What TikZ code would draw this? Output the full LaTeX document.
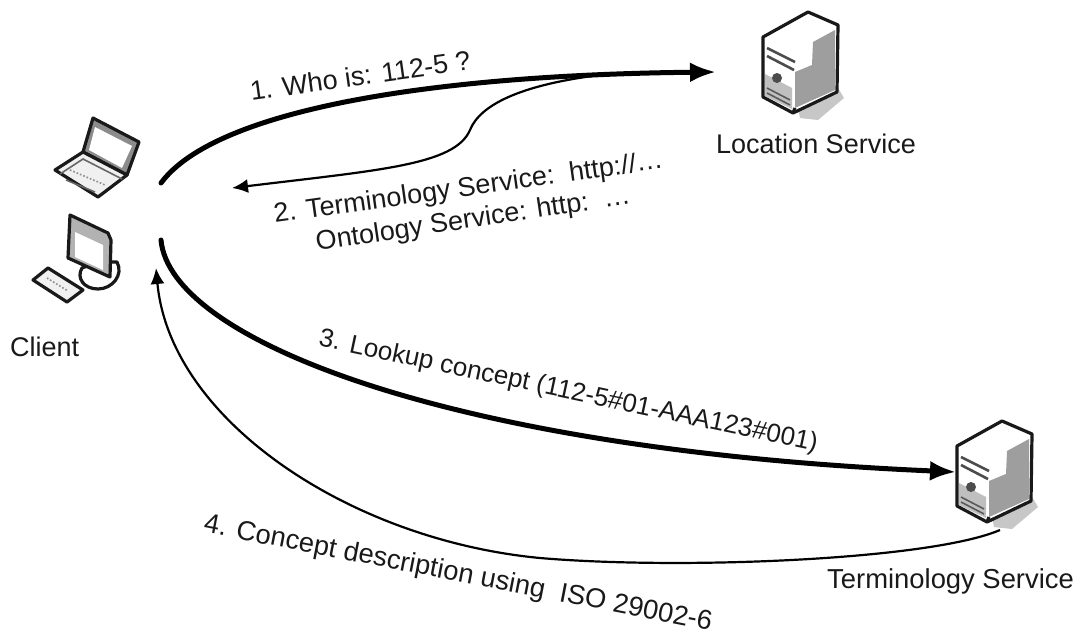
\documentclass[tikz,border=0pt]{standalone}
\usepackage{fontspec}
\setmainfont{Liberation Sans}
\usetikzlibrary{arrows.meta}

\tikzset{
	label text/.style={font=\fontsize{27}{30}\selectfont, inner sep=0pt, anchor=west, text=black!90},
	thick arrow/.style={-{Latex[length=26pt,width=20pt]}, line width=5pt, line cap=round},
	thin arrow/.style={-{Latex[length=16pt,width=14pt]}, line width=2.2pt},
	icon line/.style={line width=3.2pt, line join=round, draw=black!90},
	pics/server/.style={code={
		\fill[black!22] (-10,96) -- (30,76) -- (36,86) -- (10,108) -- (-8,106) -- cycle;
		\draw[icon line, fill=white] (0,0) -- (30,13) -- (29,80) -- (-15,101) -- (-45,85) -- (-45,25) -- cycle;
		\fill[black!38] (5,30) -- (27,18) -- (27,78) -- (-13,96) -- (-13,60) -- (4,53) -- cycle;
		\fill[black!25] (-43,62) -- (-16,76) -- (-16,97) -- (-43,84) -- cycle;
		\draw[line width=2.6pt, black!70] (-41,36) -- (-13,50);
		\draw[line width=2.6pt, black!70] (-41,44) -- (-14,58);
		\draw[line width=1.6pt, black!65] (-41,76) -- (-18,88);
		\draw[line width=1.6pt, black!65] (-41,81) -- (-18,93);
		\fill[black!70] (-31,66) circle (5);
		\draw[icon line] (-15,101) -- (-13,96);
	}}
}

\begin{document}
\begin{tikzpicture}[x=1pt, y=-1pt]

	\useasboundingbox (0,0) rectangle (1079,637);

	% servers
	\pic at (808,12) {server};
	\pic at (1002,421) {server};

	% laptop
	\draw[icon line, fill=black!45] (93,118) -- (139,142) -- (127,175) -- (83,152) -- cycle;
	\fill[white] (95,127) -- (132,146) -- (122,168) -- (89,150) -- cycle;
	\draw[icon line, fill=black!6] (55,170) -- (83,152) -- (127,175) -- (98,197) -- cycle;
	\draw[line width=1.6pt, black!60] (60,174) -- (83,159) -- (122,179);
	\draw[line width=1.6pt, black!60] (66,180) -- (95,192);
	\draw[line width=1.6pt, black!45, dotted] (70,170) -- (105,185);

	% desktop
	\draw[icon line, fill=white] (98,262) -- (117,262) .. controls (124,275) and (112,289) .. (98,289) .. controls (84,289) and (76,278) .. (82,268) -- cycle;
	\draw[icon line, fill=black!30] (70,215) -- (108,233) -- (111,240) -- (110,277) -- (68,258) -- cycle;
	\fill[white] (75,232) -- (103,245) -- (103,270) -- (75,257) -- cycle;
	\draw[icon line, fill=black!6] (48,268) -- (83,290) -- (67,302) -- (33,280) -- cycle;
	\draw[line width=1.6pt, black!45, dotted] (47,278) -- (68,291);

	% names
	\node[label text] (client) at (10,347) {Client};
	\node[label text] (location) at (716,144) {Location Service};
	\node[label text, font=\fontsize{27.4}{30}\selectfont] (terminology) at (827,581) {Terminology Service};

	% connector ends
	\coordinate (clientup) at (161,183);
	\coordinate (clientdown) at (161,240);
	\coordinate (clientin) at (156,268);
	\coordinate (clientback) at (232,188);
	\coordinate (locationin) at (716,72);
	\coordinate (locationout) at (600,75);
	\coordinate (terminologyin) at (956,472);
	\coordinate (terminologyout) at (1000,530);

	% arrows
	\draw[thick arrow] (clientup) .. controls (215,110) and (430,75) .. (locationin);
	\draw[thin arrow] (locationout) .. controls (520,85) and (480,105) .. (470,130) .. controls (455,165) and (380,170) .. (clientback);
	\draw[thick arrow] (clientdown) .. controls (170,340) and (450,450) .. (terminologyin);
	\draw[thin arrow] (terminologyout) .. controls (930,560) and (680,570) .. (540,558) .. controls (350,540) and (170,420) .. (clientin);

	% labels
	\node[label text, rotate=8] (whois) at (250,91) {1. Who is: 112-5 ?};
	\node[label text, rotate=8] (answerone) at (274,216) {2. Terminology Service:\ \ http://…};
	\node[label text, rotate=8.5] (answertwo) at (316,244) {Ontology Service: http:\ \ …};
	\node[label text, rotate=-12, font=\fontsize{26}{30}\selectfont] (lookup) at (319,339) {3. Lookup concept (112-5\#01-AAA123\#001)};
	\node[label text, rotate=-11, font=\fontsize{27.3}{30}\selectfont] (description) at (204,525) {4. Concept description using\ \ ISO 29002-6};

\end{tikzpicture}
\end{document}
